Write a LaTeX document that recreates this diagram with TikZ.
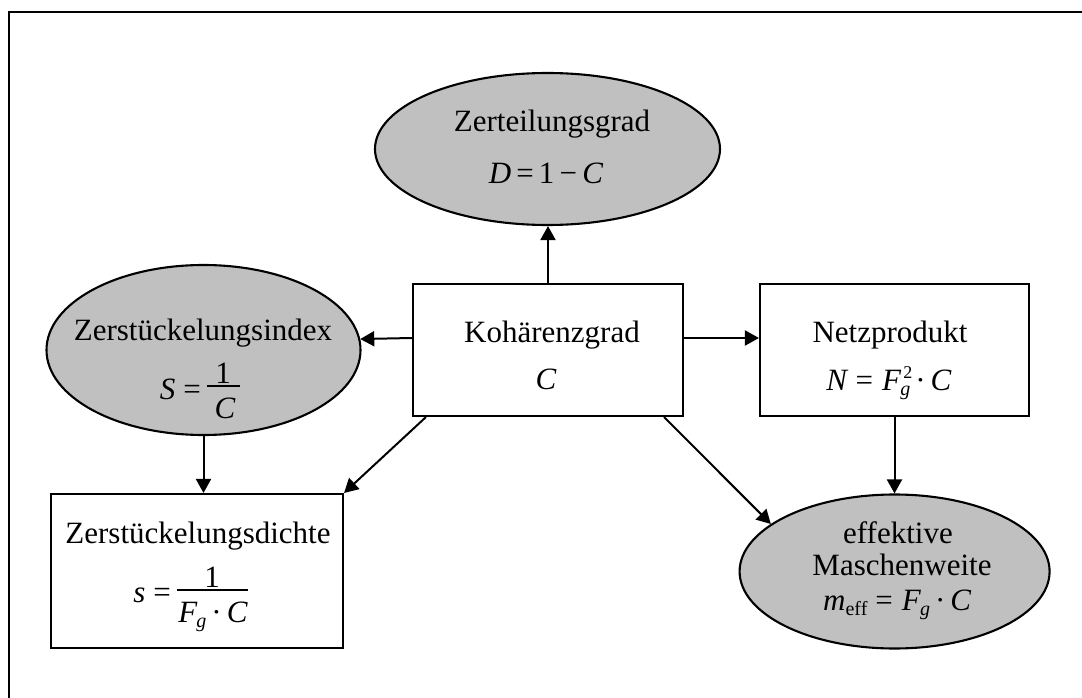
\documentclass[tikz,border=0pt]{standalone}
\usepackage{fontspec}
\setmainfont{Liberation Serif}
\usetikzlibrary{shapes.geometric,arrows.meta}
\definecolor{ovalgray}{RGB}{192,192,192}

% small lowered text for subscripts
\newcommand{\lowsub}[1]{\raisebox{-5pt}{\fontsize{20}{20}\selectfont #1}}
% F with subscript g
\newcommand{\Fsub}{\textit{F}\kern-1pt\lowsub{\itshape g}}
% F with subscript g and superscript 2
\newcommand{\Fsubsq}{\textit{F}\rlap{\kern2pt\raisebox{12pt}{\fontsize{18}{18}\selectfont 2}}\kern-1pt\lowsub{\itshape g}}

\begin{document}
\begin{tikzpicture}[x=1pt,y=-1pt,
  frame/.style={line width=2.2pt},
  boxnode/.style={draw, line width=2.1pt, rectangle, inner sep=0pt},
  ovalnode/.style={draw, line width=2.1pt, ellipse, fill=ovalgray, inner sep=0pt},
  lbl/.style={inner sep=0pt, anchor=base, font=\fontsize{31}{37}\selectfont},
  arr/.style={line width=2pt, -{Triangle[length=14pt,width=15pt]}},
  fracbar/.style={line width=2pt}]

\useasboundingbox (0,0) rectangle (1082,698);

% frame (top and left edges)
\draw[frame] (9,698) -- (9,12) -- (1082,12);

% shapes
\node[ovalnode, minimum width=345pt, minimum height=152pt] (zg) at (547.5,149) {};
\node[boxnode, minimum width=270pt, minimum height=132pt] (koh) at (548,350) {};
\node[boxnode, minimum width=269pt, minimum height=132pt] (netz) at (894.5,350) {};
\node[ovalnode, minimum width=314pt, minimum height=170pt] (idx) at (203.5,350) {};
\node[boxnode, minimum width=292pt, minimum height=154pt] (dichte) at (197,571) {};
\node[ovalnode, minimum width=310pt, minimum height=154pt] (eff) at (894.6,571.5) {};

% Zerteilungsgrad
\node[lbl] (zgA) at (552,132) {Zerteilungsgrad};
\node[lbl] (zgB) at (546,183) {\textit{D}\,=\,1\,−\,\textit{C}};

% Kohärenzgrad
\node[lbl] (kohA) at (552,342) {Kohärenzgrad};
\node[lbl] (kohB) at (546,389) {\textit{C}};

% Netzprodukt
\node[lbl] (netzA) at (890,342) {Netzprodukt};
\node[lbl] (netzB) at (889,390) {\textit{N}\hspace{7pt}=\hspace{9pt}\Fsubsq\hspace{5pt}·\hspace{5pt}\textit{C}};

% Zerstückelungsindex
\node[lbl] (idxA) at (203,340) {Zerstückelungsindex};
\node[lbl, anchor=base east] (idxS) at (201,399) {\textit{S}\hspace{8pt}=};
\node[lbl] (idxN) at (223,383) {1};
\node[lbl] (idxD) at (225,418) {\textit{C}};
\draw[fracbar] (207,386) -- (240,386);

% Zerstückelungsdichte
\node[lbl] (diA) at (198,543) {Zerstückelungsdichte};
\node[lbl, anchor=base east] (diS) at (171,602) {\textit{s}\hspace{8pt}=};
\node[lbl] (diN) at (212,587) {1};
\node[lbl] (diD) at (213,622) {\Fsub\hspace{5pt}·\hspace{5pt}\textit{C}};
\draw[fracbar] (177,590) -- (248,590);

% effektive Maschenweite
\node[lbl] (effA) at (898,543) {effektive};
\node[lbl] (effB) at (902,575) {Maschenweite};
\node[lbl, anchor=base west] (effC) at (823,610) {\textit{m}\lowsub{eff}\hspace{8pt}=\hspace{9pt}\Fsub\hspace{5pt}·\hspace{5pt}\textit{C}};

% connectors
\draw[arr] (koh.north) -- (koh.north |- zg.south);
\draw[arr] ([yshift=12pt]koh.west) -- (idx.4.4);
\draw[arr] ([yshift=12pt]koh.east) -- ([yshift=12pt]netz.west);
\draw[arr] (idx.south) -- (idx.south |- dichte.north);
\draw[arr] ([xshift=14pt]koh.south west) -- (dichte.north east);
\draw[arr] ([xshift=-20pt]koh.south east) -- (eff.159.5);
\draw[arr] (netz.south) -- (netz.south |- eff.north);
\end{tikzpicture}
\end{document}
